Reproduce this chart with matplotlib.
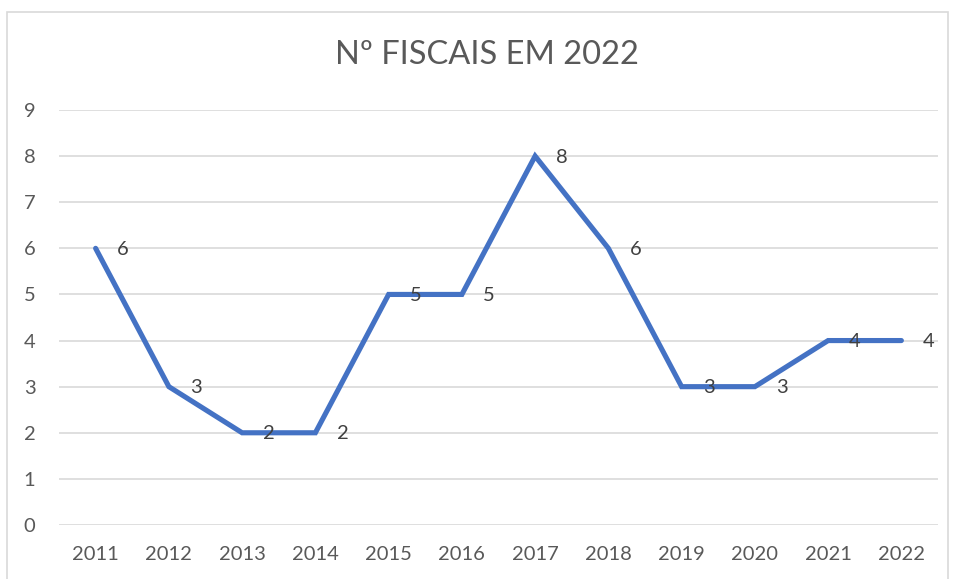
import matplotlib.pyplot as plt
from matplotlib.patches import Rectangle

years = ['2011', '2012', '2013', '2014', '2015', '2016', '2017', '2018', '2019', '2020', '2021', '2022']
fiscais = [6, 3, 2, 2, 5, 5, 8, 6, 3, 3, 4, 4]

plt.rcParams['font.family'] = ['Lato', 'DejaVu Sans']

W, H = 955, 579
fig = plt.figure(figsize=(W / 100, H / 100), dpi=100)
ax = fig.add_axes([59 / W, 1 - 525 / H, (938 - 59) / W, (525 - 110) / H])

# chart frame (cut off at the bottom in the original)
fig.patches.append(Rectangle((7 / W, -0.05), (948 - 7) / W, 1.05 - 12 / H,
                             transform=fig.transFigure, fill=False,
                             ec='#D9D9D9', lw=1.2))

x = range(len(years))
ax.plot(x, fiscais, color='#4472C4', lw=3.7, solid_capstyle='round',
        solid_joinstyle='miter', zorder=3)
for i, v in zip(x, fiscais):
    ax.annotate(str(v), (i, v), xytext=(27, -1), textcoords='offset pixels',
                ha='center', va='center', fontsize=14.5, color='#404040', zorder=4)

ax.set_xlim(-0.5, len(years) - 0.5)
ax.set_ylim(0, 9)
ax.set_yticks(range(10))
ax.set_xticks(list(x))
ax.set_xticklabels(years)
ax.yaxis.grid(True, color='#D9D9D9', lw=1.2)
ax.set_axisbelow(True)
ax.tick_params(length=0, labelsize=14.5, labelcolor='#595959')
ax.tick_params(axis='x', pad=15)
ax.tick_params(axis='y', pad=17)
for s in ax.spines.values():
    s.set_visible(False)

fig.text(487 / W, 1 - 55 / H, 'Nº FISCAIS EM 2022', ha='center', va='center',
         fontsize=23.5, color='#595959')

plt.savefig('out.png', dpi=100)
